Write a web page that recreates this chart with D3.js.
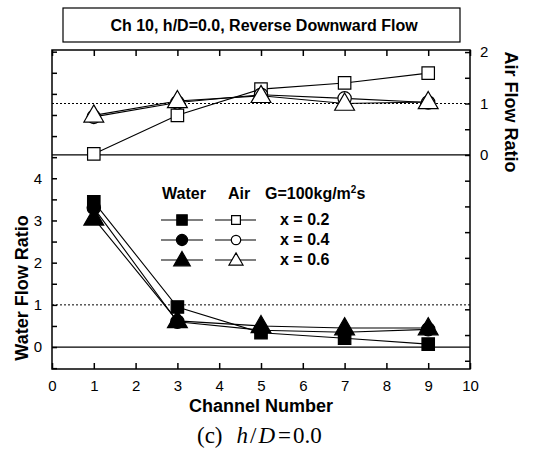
<!DOCTYPE html>
<html>
<head>
<meta charset="utf-8">
<script src="https://cdn.jsdelivr.net/npm/d3@7"></script>
<style>
  body { margin: 0; background: #fff; }
  text { font-family: "Liberation Sans", Arial, sans-serif; }
</style>
</head>
<body>
<div id="chart"></div>
<script>
// Dane
const channels = [1, 3, 5, 7, 9];
const qualities = ["x = 0.2", "x = 0.4", "x = 0.6"];
const shapes = ["square", "circle", "triangle"];
const waterRatio = [
  [3.44, 0.95, 0.34, 0.21, 0.07],
  [3.30, 0.60, 0.40, 0.35, 0.42],
  [3.05, 0.62, 0.50, 0.45, 0.45]
];
const airRatio = [
  [0.02, 0.77, 1.28, 1.40, 1.59],
  [0.74, 1.02, 1.17, 1.10, 1.02],
  [0.77, 1.05, 1.15, 1.00, 1.03]
];
const xTicks = [0, 1, 2, 3, 4, 5, 6, 7, 8, 9, 10];
const waterTickLabels = [0, 1, 2, 3, 4];
const airTickLabels = [0, 1, 2];

const W = 537, H = 455;
const svg = d3.select("#chart").append("svg")
  .attr("width", W).attr("height", H);

const pLeft = 52, pRight = 470, pTop = 50, pBottom = 369;
const x = d3.scaleLinear().domain([0, 10]).range([pLeft, pRight]);
const yW = d3.scaleLinear().domain([-0.52, 7.04]).range([pBottom, pTop]);
const yA = d3.scaleLinear().domain([-4.16, 2.04]).range([pBottom, pTop]);

// Tytuł w ramce
svg.append("rect")
  .attr("x", 63).attr("y", 8).attr("width", 397).attr("height", 34)
  .attr("fill", "none").attr("stroke", "#000").attr("stroke-width", 1.2);
svg.append("text")
  .attr("x", 264).attr("y", 31)
  .attr("text-anchor", "middle")
  .style("font-size", "16px").style("font-weight", "bold")
  .text("Ch 10, h/D=0.0, Reverse Downward Flow");

// Linie odniesienia
svg.append("line")
  .attr("x1", pLeft).attr("x2", pRight).attr("y1", yA(1)).attr("y2", yA(1))
  .attr("stroke", "#000").attr("stroke-width", 1).attr("stroke-dasharray", "2,2");
svg.append("line")
  .attr("x1", pLeft).attr("x2", pRight).attr("y1", yW(1)).attr("y2", yW(1))
  .attr("stroke", "#000").attr("stroke-width", 1).attr("stroke-dasharray", "2,2");
svg.append("line")
  .attr("x1", pLeft).attr("x2", pRight).attr("y1", yA(0)).attr("y2", yA(0))
  .attr("stroke", "#000").attr("stroke-width", 1.2);
svg.append("line")
  .attr("x1", pLeft).attr("x2", pRight).attr("y1", yW(0)).attr("y2", yW(0))
  .attr("stroke", "#000").attr("stroke-width", 1.2);

// Osie
const axisStyle = g => {
  g.select(".domain").remove();
  g.selectAll("line").attr("stroke", "#000").attr("stroke-width", 1.5);
  g.selectAll("text").style("font-size", "15px").attr("fill", "#000");
};

svg.append("g")
  .attr("transform", `translate(0,${pBottom})`)
  .call(d3.axisBottom(x).tickValues(xTicks).tickSizeInner(-6).tickSizeOuter(0).tickPadding(11))
  .call(axisStyle);
svg.append("g")
  .attr("transform", `translate(0,${pTop})`)
  .call(d3.axisTop(x).tickValues(xTicks).tickSizeInner(-6).tickSizeOuter(0).tickFormat(""))
  .call(axisStyle);

const wTicks = d3.range(-0.5, 7.01, 0.5);
svg.append("g")
  .attr("transform", `translate(${pLeft},0)`)
  .call(d3.axisLeft(yW).tickValues(wTicks).tickSizeInner(-5).tickSizeOuter(0).tickPadding(10)
    .tickFormat(d => waterTickLabels.includes(d) ? d : ""))
  .call(axisStyle);

const aTicks = d3.range(-4, 2.01, 0.5);
svg.append("g")
  .attr("transform", `translate(${pRight},0)`)
  .call(d3.axisRight(yA).tickValues(aTicks).tickSizeInner(-5).tickSizeOuter(0).tickPadding(10)
    .tickFormat(d => airTickLabels.includes(d) ? d : ""))
  .call(axisStyle);

// Ramka
svg.append("rect")
  .attr("x", pLeft).attr("y", pTop).attr("width", pRight - pLeft).attr("height", pBottom - pTop)
  .attr("fill", "none").attr("stroke", "#000").attr("stroke-width", 1.5);

// Tytuły osi
svg.append("text")
  .attr("x", 261).attr("y", 412)
  .attr("text-anchor", "middle")
  .style("font-size", "18px").style("font-weight", "bold")
  .text("Channel Number");
svg.append("text")
  .attr("transform", "translate(28,288) rotate(-90)")
  .attr("text-anchor", "middle")
  .style("font-size", "18px").style("font-weight", "bold")
  .text("Water Flow Ratio");
svg.append("text")
  .attr("transform", "translate(505,112) rotate(90)")
  .attr("text-anchor", "middle")
  .style("font-size", "18px").style("font-weight", "bold")
  .text("Air Flow Ratio");

// Markery
const symType = { square: d3.symbolSquare, circle: d3.symbolCircle, triangle: d3.symbolTriangle };
const symSize = { square: 155, circle: 140, triangle: 170 };
function marker(g, shape, cx, cy, filled, scale = 1) {
  g.append("path")
    .attr("d", d3.symbol().type(symType[shape]).size(symSize[shape] * scale)())
    .attr("transform", `translate(${cx},${cy + (shape === "triangle" ? 1 : 0)})`)
    .attr("fill", filled ? "#000" : "#fff")
    .attr("stroke", "#000").attr("stroke-width", 1.2);
}

const lineW = d3.line().x((d, i) => x(channels[i])).y(d => yW(d));
const lineA = d3.line().x((d, i) => x(channels[i])).y(d => yA(d));

// Seria powietrza (puste)
airRatio.forEach((series, s) => {
  svg.append("path").datum(series)
    .attr("d", lineA).attr("fill", "none").attr("stroke", "#000").attr("stroke-width", 1.1);
});
airRatio.forEach((series, s) => {
  const g = svg.append("g");
  series.forEach((v, i) => marker(g, shapes[s], x(channels[i]), yA(v), false));
});

// Seria wody (wypełnione)
waterRatio.forEach((series, s) => {
  svg.append("path").datum(series)
    .attr("d", lineW).attr("fill", "none").attr("stroke", "#000").attr("stroke-width", 1.1);
});
waterRatio.forEach((series, s) => {
  const g = svg.append("g");
  series.forEach((v, i) => marker(g, shapes[s], x(channels[i]), yW(v), true));
});

// Legenda
const leg = svg.append("g");
leg.append("text").attr("x", 184).attr("y", 199).attr("text-anchor", "middle")
  .style("font-size", "16px").style("font-weight", "bold").text("Water");
leg.append("text").attr("x", 239).attr("y", 199).attr("text-anchor", "middle")
  .style("font-size", "16px").style("font-weight", "bold").text("Air");
const gText = leg.append("text").attr("x", 265).attr("y", 199)
  .style("font-size", "16px").style("font-weight", "bold");
gText.append("tspan").text("G=100kg/m");
gText.append("tspan").attr("dy", -6).style("font-size", "10px").text("2");
gText.append("tspan").attr("dy", 6).text("s");

qualities.forEach((q, s) => {
  const yy = 220 + s * 20;
  leg.append("line").attr("x1", 161).attr("x2", 203).attr("y1", yy).attr("y2", yy)
    .attr("stroke", "#000").attr("stroke-width", 1.1);
  marker(leg, shapes[s], 182, yy, true, 0.7);
  leg.append("line").attr("x1", 215).attr("x2", 256).attr("y1", yy).attr("y2", yy)
    .attr("stroke", "#000").attr("stroke-width", 1.1);
  marker(leg, shapes[s], 236, yy, false, 0.5);
  leg.append("text").attr("x", 280).attr("y", yy + 5)
    .style("font-size", "16px").style("font-weight", "bold").text(q);
});

// Podpis
const cap = svg.append("text")
  .attr("x", 197).attr("y", 443)
  .style("font-family", "'Liberation Serif', 'DejaVu Serif', serif")
  .style("font-size", "23px");
cap.append("tspan").text("(c)");
cap.append("tspan").attr("dx", 14).style("font-style", "italic").text("h");
cap.append("tspan").attr("dx", 2).text("/");
cap.append("tspan").attr("dx", 2).style("font-style", "italic").text("D");
cap.append("tspan").attr("dx", 3).text("=");
cap.append("tspan").attr("dx", 2).text("0.0");
</script>
</body>
</html>
